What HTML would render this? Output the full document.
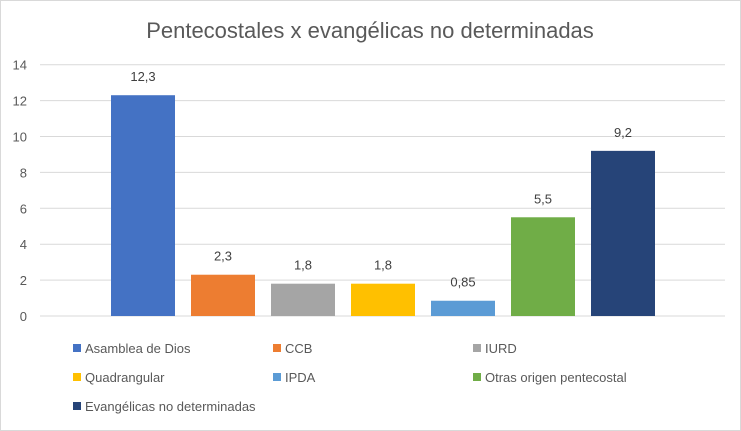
<!DOCTYPE html>
<html><head><meta charset="utf-8"><style>
body{margin:0;background:#fff}
svg{display:block;font-family:"Liberation Sans",sans-serif}
</style></head><body>
<svg width="741" height="431">
<rect x="0.5" y="0.5" width="740" height="430" fill="#fff" stroke="#d9d9d9"/>
<text x="370" y="38" font-size="22" fill="#595959" text-anchor="middle">Pentecostales x evangélicas no determinadas</text>
<g id="grid"></g><g id="bars"></g><g id="legend"></g>
</svg>
<script>
const categories=["Asamblea de Dios","CCB","IURD","Quadrangular","IPDA","Otras origen pentecostal","Evangélicas no determinadas"];
const values=[12.3,2.3,1.8,1.8,0.85,5.5,9.2];
const labels=["12,3","2,3","1,8","1,8","0,85","5,5","9,2"];
const colors=["#4472c4","#ed7d31","#a5a5a5","#ffc000","#5b9bd5","#70ad47","#264478"];
const ticks=[0,2,4,6,8,10,12,14];
const NS="http://www.w3.org/2000/svg";
const y0=316,y1=64.7,ymax=14;
const y=v=>y0-(y0-y1)*v/ymax;
const barX=i=>111+i*80, barW=64;
function mk(t,a,p){const e=document.createElementNS(NS,t);for(const k in a)e.setAttribute(k,a[k]);p.appendChild(e);return e;}
const g=document.getElementById('grid');
ticks.forEach(t=>{
 const l=mk('line',{x1:40,x2:725,y1:y(t),y2:y(t),stroke:'#d9d9d9','stroke-width':1},g);
 
 
 const tx=mk('text',{x:27,y:y(t)+5,'font-size':13,fill:'#595959','text-anchor':'end'},g);
 tx.textContent=t;
 
 
});
const b=document.getElementById('bars');
values.forEach((v,i)=>{
 const r=mk('rect',{x:barX(i),y:y(v),width:barW,height:y0-y(v),fill:colors[i]},b);
 
 
 const t=mk('text',{x:barX(i)+barW/2,y:y(v)-14,'font-size':13,fill:'#404040','text-anchor':'middle'},b);
 t.textContent=labels[i];
 
 
});
const lg=document.getElementById('legend');
categories.forEach((c,i)=>{
 const col=i%3,row=Math.floor(i/3);
 const lx=73+col*200,ly=349+row*29;
 const s=mk('rect',{x:lx,y:ly-5,width:8,height:8,fill:colors[i]},lg);
 
 
 const t=mk('text',{x:lx+12,y:ly+4,'font-size':13,fill:'#595959'},lg);
 t.textContent=c;
 
 
});
</script>
</body></html>
